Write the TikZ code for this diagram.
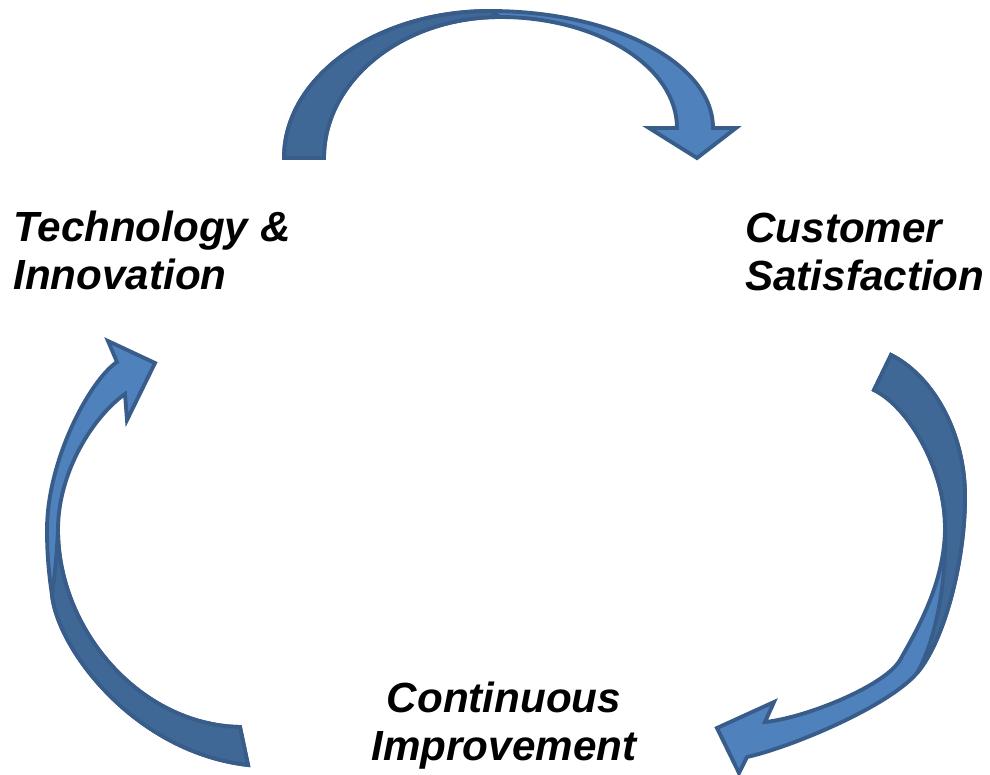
\documentclass[tikz,border=0pt]{standalone}
\usepackage{fontspec}
\setmainfont{Liberation Sans}
\usetikzlibrary{positioning}
\definecolor{blueL}{HTML}{4F81BD}
\definecolor{blueD}{HTML}{406896}
\definecolor{blueE}{HTML}{385D8A}
\tikzset{
    arrowl/.style = {fill=blueL, draw=blueE, line width=2.2pt, line join=miter},
    arrowd/.style = {fill=blueD, draw=blueE, line width=2.2pt, line join=miter},
    mylabel/.style = {inner sep=0pt, font=\fontsize{24}{27}\selectfont\bfseries\itshape, text=black},
}

\begin{document}
\begin{tikzpicture}[x=0.02cm, y=-0.02cm]
\useasboundingbox (0,0) rectangle (990,774);

\node[mylabel, anchor=north west, align=left] at (13,211) (tech) {Technology \&\\Innovation};
\node[mylabel, anchor=north west, align=left] at (745,213) (cust) {Customer\\Satisfaction};
\node[mylabel, anchor=north, align=center] at (504,682) (cont) {Continuous\\Improvement};

% top arrow
\filldraw[arrowl] (284,158) .. controls (284,77) and (376,11) .. (490,11)
  .. controls (613,11) and (713,63) .. (713,128)
  -- (736,128) -- (697,158) -- (649,128) -- (677,128)
  .. controls (677,67) and (598,17) .. (500,17)
  .. controls (403,17) and (324,80) .. (324,158) -- cycle;
\filldraw[arrowd] (284,158) .. controls (284,77) and (376,11) .. (490,11)
  -- (500,17) .. controls (403,17) and (324,80) .. (324,158) -- cycle;

% right arrow
\filldraw[arrowl] (891,355) .. controls (931,375) and (965,430) .. (965,497)
  .. controls (965,560) and (945,640) .. (917,673)
  .. controls (889,706) and (792,747) .. (747,757)
  -- (739,773) -- (717,728) -- (774,702) -- (765,722)
  .. controls (805,718) and (885,686) .. (900,660)
  .. controls (920,625) and (945,580) .. (945,527)
  .. controls (945,470) and (909,407) .. (874,390) -- cycle;
\filldraw[arrowd] (891,355) .. controls (931,375) and (965,430) .. (965,497)
  .. controls (965,560) and (945,640) .. (917,673)
  .. controls (936,640) and (947,580) .. (945,527)
  .. controls (945,470) and (909,407) .. (874,390) -- cycle;

% left arrow
\filldraw[arrowl] (248,765) .. controls (135,752) and (58,650) .. (52,595)
  .. controls (49,575) and (47,555) .. (47,530)
  .. controls (47,460) and (90,380) .. (117,362)
  -- (108,341) -- (155,363) -- (127,420) -- (125,394)
  .. controls (95,415) and (58,470) .. (58,530)
  .. controls (58,630) and (140,725) .. (240,727) -- cycle;
\filldraw[arrowd] (248,765) .. controls (135,752) and (58,650) .. (52,595)
  .. controls (55,575) and (57,550) .. (58,530)
  .. controls (58,630) and (140,725) .. (240,727) -- cycle;

\end{tikzpicture}
\end{document}
